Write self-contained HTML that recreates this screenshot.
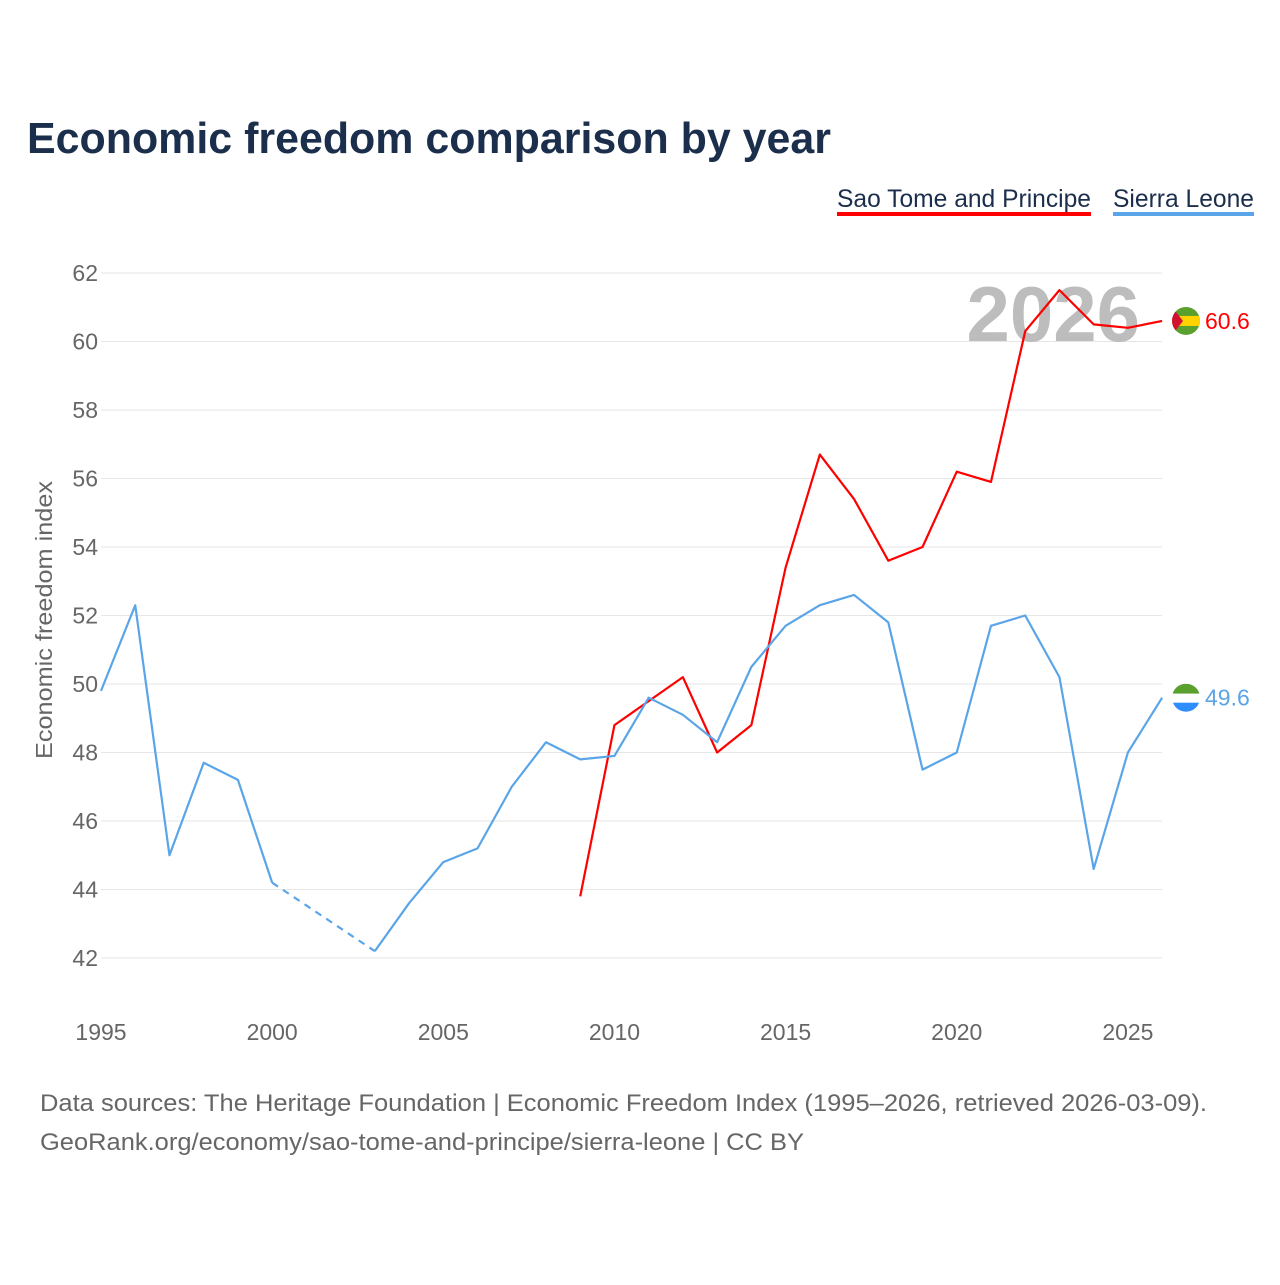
<!DOCTYPE html>
<html><head><meta charset="utf-8"><style>
body{margin:0;background:#fff;font-family:"Liberation Sans",sans-serif}
svg text{font-family:"Liberation Sans",sans-serif}
</style></head><body>
<svg id="c" width="1280" height="1280" viewBox="0 0 1280 1280">
<text x="27" y="153" font-size="44" font-weight="bold" fill="#1b2e4b" textLength="804" lengthAdjust="spacingAndGlyphs">Economic freedom comparison by year</text>
<g>
<text x="837" y="207" font-size="25" fill="#1b2e4b" textLength="254" lengthAdjust="spacingAndGlyphs">Sao Tome and Principe</text>
<rect x="837" y="212" width="254" height="4" fill="#ff0000"/>
<text x="1113" y="207" font-size="25" fill="#1b2e4b" textLength="141" lengthAdjust="spacingAndGlyphs">Sierra Leone</text>
<rect x="1113" y="212" width="141" height="4" fill="#5aa5e8"/>
</g>
<g id="grid"></g>
<g id="yt"></g>
<g id="xt"></g>
<text x="52" y="620" font-size="23" fill="#666" transform="rotate(-90 52 620)" text-anchor="middle" textLength="278" lengthAdjust="spacingAndGlyphs">Economic freedom index</text>
<text x="1140" y="341" font-size="78" font-weight="bold" fill="#bdbdbd" text-anchor="end">2026</text>
<g id="series"></g>
<text x="40" y="1111" font-size="24" fill="#666" textLength="1167" lengthAdjust="spacingAndGlyphs">Data sources: The Heritage Foundation | Economic Freedom Index (1995–2026, retrieved 2026-03-09).</text>
<text x="40" y="1150" font-size="24" fill="#666" textLength="764" lengthAdjust="spacingAndGlyphs">GeoRank.org/economy/sao-tome-and-principe/sierra-leone | CC BY</text>
</svg>
<script>
const years=[1995,1996,1997,1998,1999,2000,2001,2002,2003,2004,2005,2006,2007,2008,2009,2010,2011,2012,2013,2014,2015,2016,2017,2018,2019,2020,2021,2022,2023,2024,2025,2026];
const sierraLeone=[49.8,52.3,45.0,47.7,47.2,44.2,null,null,42.2,43.6,44.8,45.2,47.0,48.3,47.8,47.9,49.6,49.1,48.3,50.5,51.7,52.3,52.6,51.8,47.5,48.0,51.7,52.0,50.2,44.6,48.0,49.6];
const saoTome=[null,null,null,null,null,null,null,null,null,null,null,null,null,null,43.8,48.8,49.5,50.2,48.0,48.8,53.4,56.7,55.4,53.6,54.0,56.2,55.9,60.3,61.5,60.5,60.4,60.6];
const yTicks=[42,44,46,48,50,52,54,56,58,60,62];
const xTicks=[1995,2000,2005,2010,2015,2020,2025];
const X=v=>101+(v-1995)*34.23, Y=v=>958-(v-42)*34.25;
const NS="http://www.w3.org/2000/svg";
function mk(t,a,p){const e=document.createElementNS(NS,t);for(const k in a)e.setAttribute(k,a[k]);p.appendChild(e);return e;}
const g=document.getElementById('grid'),yt=document.getElementById('yt'),xt=document.getElementById('xt'),s=document.getElementById('series');
yTicks.forEach(v=>{
 const l=mk('line',{x1:101,x2:1162,y1:Y(v),y2:Y(v),stroke:'#e6e6e6','stroke-width':1},g);
 
 
 const t=mk('text',{x:98,y:Y(v)+8,'font-size':23,fill:'#666','text-anchor':'end'},yt);t.textContent=v;
 
 
});
xTicks.forEach(v=>{
 const t=mk('text',{x:X(v),y:1040,'font-size':23,fill:'#666','text-anchor':'middle'},xt);t.textContent=v;
 
 
});
function draw(vals,color,name){
 let segs=[],cur=[],gaps=[];let last=null;
 vals.forEach((v,i)=>{
  if(v==null){if(cur.length){segs.push(cur);cur=[];}return;}
  if(last!=null&&last<i-1&&cur.length===0) gaps.push([[years[last],vals[last]],[years[i],v]]);
  cur.push([years[i],v]);last=i;
 });
 if(cur.length)segs.push(cur);
 segs.forEach((sg,k)=>{
  const p=mk('polyline',{points:sg.map(q=>X(q[0])+','+Y(q[1])).join(' '),fill:'none',stroke:color,'stroke-width':2.2,'stroke-linejoin':'round'},s);
  
  
 });
 gaps.forEach((gp,k)=>{
  const p=mk('line',{x1:X(gp[0][0]),y1:Y(gp[0][1]),x2:X(gp[1][0]),y2:Y(gp[1][1]),stroke:color,'stroke-width':2.2,'stroke-dasharray':'7,6'},s);
  
  
 });
 const lv=vals[vals.length-1],cy=Y(lv),cx=1186;
 const t=mk('text',{x:1205,y:cy+8,'font-size':23,fill:color},s);t.textContent=lv.toFixed(1);
 
 
 return [cx,cy];
}
const [c1x,c1y]=draw(saoTome,'#ff0000','sao-tome');
const [c2x,c2y]=draw(sierraLeone,'#5aa5e8','sierra-leone');
let f=mk('g',{},s);
mk('clipPath',{id:'cp1'},f);mk('circle',{cx:c1x,cy:c1y,r:14},f.lastChild);
const fg=mk('g',{'clip-path':'url(#cp1)'},f);
mk('rect',{x:c1x-14,y:c1y-14,width:28,height:28,fill:'#5aa02c'},fg);
mk('rect',{x:c1x-14,y:c1y-5,width:28,height:10,fill:'#ffd200'},fg);
mk('polygon',{points:(c1x-14)+','+(c1y-14)+' '+(c1x-3)+','+c1y+' '+(c1x-14)+','+(c1y+14),fill:'#d21034'},fg);
f=mk('g',{},s);
mk('clipPath',{id:'cp2'},f);mk('circle',{cx:c2x,cy:c2y,r:14},f.lastChild);
const fg2=mk('g',{'clip-path':'url(#cp2)'},f);
mk('rect',{x:c2x-14,y:c2y-14,width:28,height:10,fill:'#5aa02c'},fg2);
mk('rect',{x:c2x-14,y:c2y-4,width:28,height:9,fill:'#fff'},fg2);
mk('rect',{x:c2x-14,y:c2y+5,width:28,height:10,fill:'#2f8cff'},fg2);
</script>
</body></html>
